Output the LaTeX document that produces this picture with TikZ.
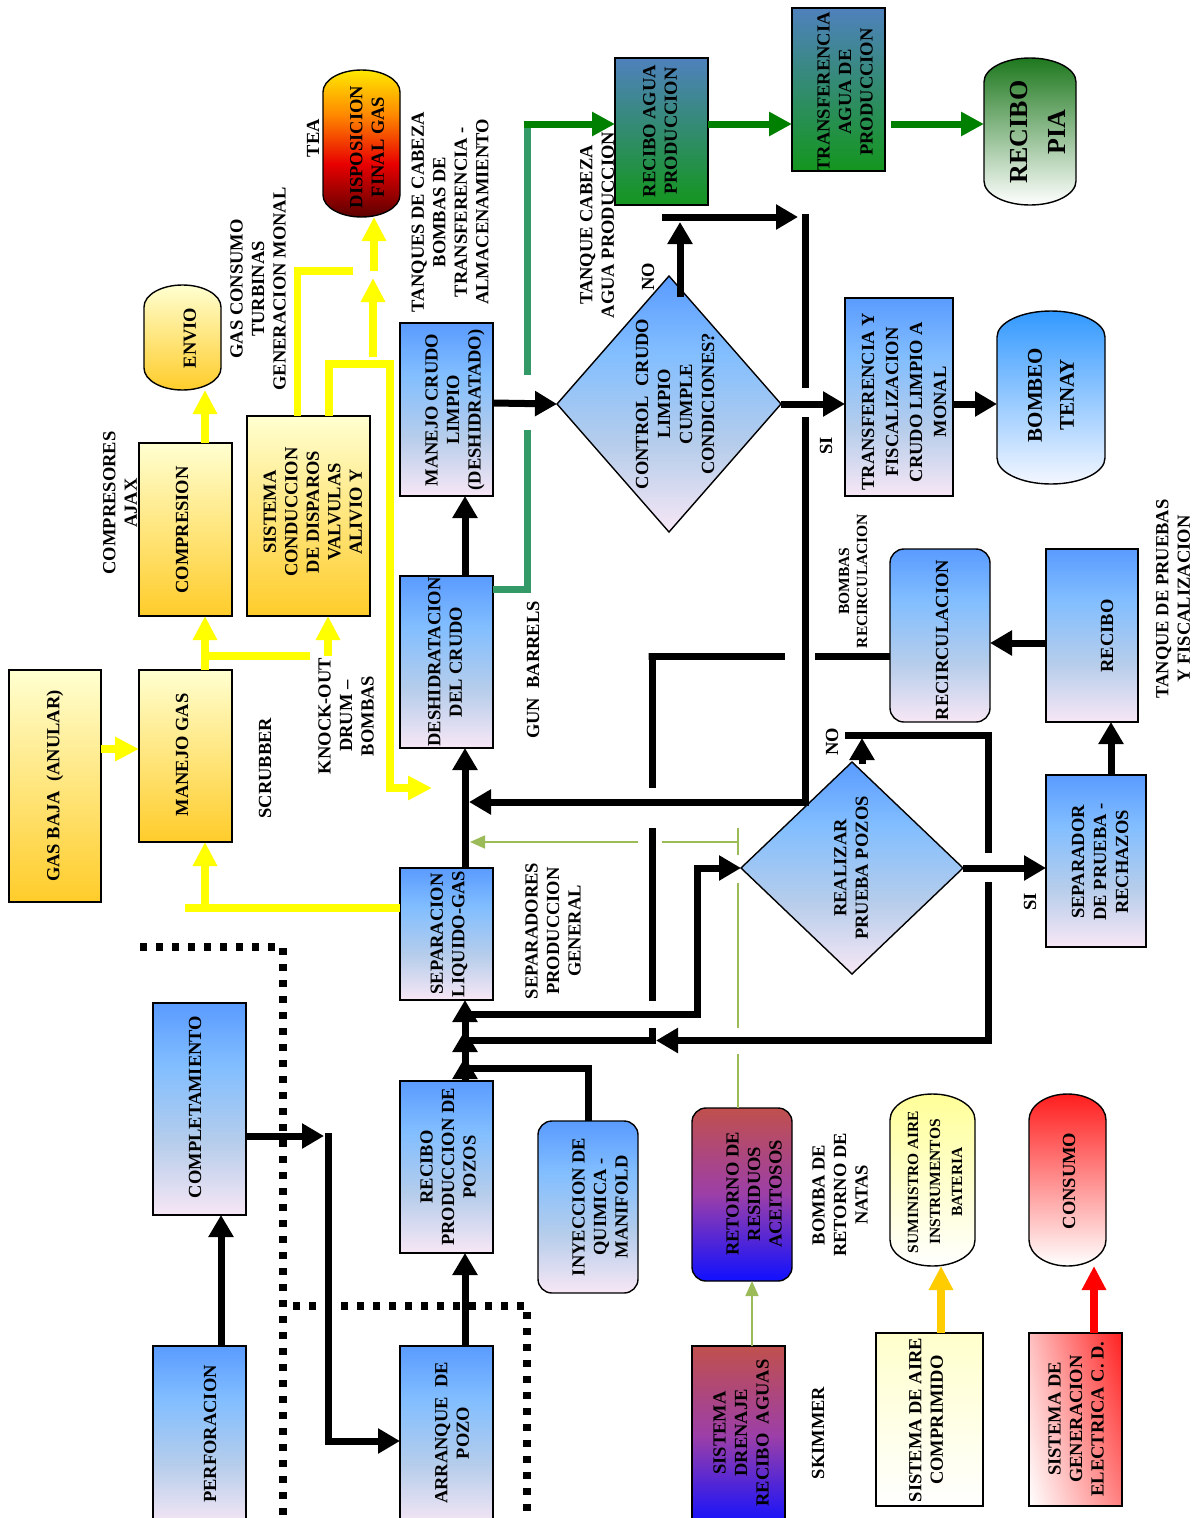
\documentclass[tikz,border=0pt]{standalone}
\usepackage{fontspec}
\setmainfont{Liberation Serif}
\usetikzlibrary{arrows.meta,shapes.geometric,shadings}

\definecolor{btop}{HTML}{5A9BFF}
\definecolor{blight}{HTML}{82BEFF}
\definecolor{bmid}{HTML}{B6CDEB}
\definecolor{bpink}{HTML}{F7E7F5}
\pgfdeclareverticalshading{bluefade}{100bp}{color(0bp)=(bpink); color(25bp)=(bpink); color(42bp)=(bmid); color(60bp)=(blight); color(75bp)=(btop); color(100bp)=(btop)}
\definecolor{fa}{HTML}{5C0000}
\definecolor{fb}{HTML}{E80000}
\definecolor{fc}{HTML}{FF8A00}
\definecolor{fd}{HTML}{FFE800}
\pgfdeclareverticalshading{flame}{100bp}{color(0bp)=(fa); color(25bp)=(fa); color(43bp)=(fb); color(60bp)=(fc); color(75bp)=(fd); color(100bp)=(fd)}
\definecolor{ytop}{HTML}{FFFFD0}
\definecolor{ybot}{HTML}{FFCC2A}
\definecolor{wtop}{HTML}{4F81BD}
\definecolor{wbot}{HTML}{14961E}
\definecolor{pia}{HTML}{1E781E}
\definecolor{tenay}{HTML}{3399FF}
\definecolor{tenayb}{HTML}{F4F7FF}
\definecolor{rtop}{HTML}{C0504D}
\definecolor{rmid}{HTML}{9C3FA8}
\definecolor{rbot}{HTML}{1010FF}
\definecolor{sumi}{HTML}{FFFF99}
\definecolor{airec}{HTML}{FFFFCC}
\definecolor{cons}{HTML}{FF1E1E}
\definecolor{genul}{HTML}{FFC0C0}
\definecolor{genur}{HTML}{FF2020}
\definecolor{genlr}{HTML}{FF8080}
\definecolor{gA}{HTML}{008000}
\definecolor{gS}{HTML}{339966}
\definecolor{gT}{HTML}{9BBB59}
\definecolor{goldc}{HTML}{FFCC00}
\definecolor{ylwc}{HTML}{FFFF00}

\tikzset{
 base/.style={draw=black, line width=1.4pt, inner sep=0pt, outer sep=0pt},
 bluebox/.style={base, rectangle, shade, shading=bluefade},
 yelbox/.style={base, rectangle, top color=ytop, bottom color=ybot},
 waterbox/.style={base, rectangle, top color=wtop, bottom color=wbot},
 oilbox/.style={base, rectangle, top color=rtop, bottom color=rbot, middle color=rmid},
 rbox/.style={rounded corners=14pt},
 capline/.style={draw=black, line width=1.4pt},
 plainbox/.style={rectangle, inner sep=0pt, outer sep=0pt},
 txt/.style={rotate=90, align=center, inner sep=0pt, font=\fontsize{18.5}{21.5}\selectfont\bfseries},
 blk/.style={draw=black, line width=7pt, -{Triangle[length=22pt,width=24pt]}},
 blkline/.style={draw=black, line width=7pt},
 ylwA/.style={draw=ylwc, line width=7.5pt, -{Triangle[length=24pt,width=23pt]}},
 ylwline/.style={draw=ylwc, line width=7.5pt},
 grnA/.style={draw=gA, line width=7pt, -{Triangle[length=23pt,width=23pt]}},
 sgline/.style={draw=gS, line width=7pt},
 tgline/.style={draw=gT, line width=1.6pt},
 tgA/.style={tgline, -{Triangle[length=15pt,width=13pt]}},
 goldA/.style={draw=goldc, line width=8pt, -{Triangle[length=24pt,width=23pt]}},
 redA/.style={draw=red, line width=8pt, -{Triangle[length=24pt,width=23pt]}},
 dotb/.style={draw=black, line width=8pt, dash pattern=on 7pt off 9pt},
}

% name, cx, cy, w, h, cap, fill options
\newcommand\capsule[7]{%
 \path[capline,#7] ({#2-#4/2},{#3-#5/2+#6}) .. controls ({#2-#4/2},{#3-#5/2+0.448*#6}) and ({#2-0.276*#4},{#3-#5/2}) .. ({#2},{#3-#5/2}) .. controls ({#2+0.276*#4},{#3-#5/2}) and ({#2+#4/2},{#3-#5/2+0.448*#6}) .. ({#2+#4/2},{#3-#5/2+#6}) -- ({#2+#4/2},{#3+#5/2-#6}) .. controls ({#2+#4/2},{#3+#5/2-0.448*#6}) and ({#2+0.276*#4},{#3+#5/2}) .. ({#2},{#3+#5/2}) .. controls ({#2-0.276*#4},{#3+#5/2}) and ({#2-#4/2},{#3+#5/2-0.448*#6}) .. ({#2-#4/2},{#3+#5/2-#6}) -- cycle;
 \node[plainbox, minimum width=#4pt, minimum height=#5pt] (#1) at (#2,#3) {};
}

\begin{document}
\begin{tikzpicture}[x=1pt,y=-1pt]
\useasboundingbox (0,0) rectangle (1204,1518);
\fill[white] (0,0) rectangle (1204,1518);

% dotted borders
\draw[dotb] (140,947) -- (283,947) -- (283,1525);
\draw[dotb] (293,1306) -- (527,1306) -- (527,1525);

% ---------- boxes ----------
\node[yelbox, minimum width=92pt, minimum height=232pt] (gasbaja) at (55,786) {};
\node[yelbox, minimum width=93pt, minimum height=172pt] (manejogas) at (185.5,756) {};
\node[yelbox, minimum width=93pt, minimum height=173pt] (compresion) at (185.5,529.5) {};
\node[yelbox, minimum width=123pt, minimum height=200pt] (sistema) at (308.5,516) {};
\capsule{envio}{182.5}{337.5}{77}{105}{22}{top color=ytop, bottom color=ybot}
\capsule{disposicion}{361.5}{143.5}{77}{147}{22}{shade, shading=flame}

\node[bluebox, minimum width=93pt, minimum height=173pt] (manejocrudo) at (446.5,409.5) {};
\node[bluebox, minimum width=93pt, minimum height=172pt] (deshidratacion) at (446.5,662) {};
\node[bluebox, minimum width=93pt, minimum height=132pt] (separacion) at (446.5,934) {};
\node[bluebox, minimum width=93pt, minimum height=172pt] (reciboprod) at (446.5,1167) {};
\node[bluebox, minimum width=93pt, minimum height=180pt] (arranque) at (446.5,1436) {};
\node[bluebox, minimum width=93pt, minimum height=180pt] (perforacion) at (199.5,1436) {};
\node[bluebox, minimum width=93pt, minimum height=212pt] (completamiento) at (199.5,1109) {};
\node[bluebox, rbox, minimum width=100pt, minimum height=172pt] (inyeccion) at (588,1207) {};
\node[oilbox, rbox, minimum width=100pt, minimum height=173pt] (retorno) at (742,1194.5) {};
\node[oilbox, minimum width=93pt, minimum height=180pt] (drenaje) at (738.5,1436) {};
\capsule{suministro}{932.5}{1180}{85}{172}{26}{top color=sumi, bottom color=white}
\capsule{consumo}{1067.5}{1180}{77}{172}{26}{top color=cons, bottom color=white}
\node[base, rectangle, top color=airec, bottom color=white, minimum width=107pt, minimum height=173pt] (aire) at (929.5,1419.5) {};
\node[base, rectangle, shade, shading=bilinear interpolation, lower left=white, upper left=genul, upper right=genur, lower right=genlr, minimum width=93pt, minimum height=173pt] (generacion) at (1075.5,1419.5) {};

\node[base, diamond, shade, shading=bluefade, minimum width=224pt, minimum height=256pt] (control) at (669,404) {};
\node[base, diamond, shade, shading=bluefade, minimum width=222pt, minimum height=212pt] (realizar) at (852,868) {};

\node[waterbox, minimum width=93pt, minimum height=147pt] (reciboagua) at (661.5,131.5) {};
\node[waterbox, minimum width=93pt, minimum height=163pt] (transfagua) at (838.5,89.5) {};
\capsule{recibopia}{1030}{131.5}{92}{147}{24}{top color=pia, bottom color=white}
\node[bluebox, minimum width=108pt, minimum height=198pt] (transfcrudo) at (899,397) {};
\capsule{bombeo}{1051}{397.5}{108}{173}{26}{top color=tenay, bottom color=tenayb}
\node[bluebox, minimum width=100pt, minimum height=172pt] (separador) at (1096,861) {};
\node[bluebox, minimum width=92pt, minimum height=173pt] (recibo) at (1092,635.5) {};
\node[bluebox, rbox, minimum width=100pt, minimum height=173pt] (recirc) at (940,635.5) {};

% ---------- black connectors ----------
\coordinate (jA) at (324,1136);
\draw[blk] ([xshift=21.5pt]perforacion.north) -- ([xshift=21.5pt]completamiento.south);
\draw[blk] ([yshift=-27pt]completamiento.east) -- (jA);
\draw[blk] (328,1133) |- ([yshift=-5pt]arranque.west);
\draw[blk] ([xshift=18.5pt]arranque.north) -- ([xshift=18.5pt]reciboprod.south);
\draw[blk] ([xshift=18.5pt]reciboprod.north) -- ([xshift=18.5pt]separacion.south);
\draw[blk] ([xshift=18.5pt]separacion.north) -- ([xshift=18.5pt]deshidratacion.south);
\draw[blk] ([xshift=18.5pt]deshidratacion.north) -- ([xshift=18.5pt]manejocrudo.south);
\draw[blk] (inyeccion.north) |- (465,1068) -- (465,1057);
\draw[blk] (988,882) -- (988,1040.5) -- (656,1040.5);
\draw[blk] (652,1028) -- (652,1040.5) -- (465,1040.5) -- (465,1030);
\draw[blkline] ([yshift=-20.5pt]recirc.west) -- (815,656);
\draw[blkline] (785,656) -- (648.5,656) -- (652,656) -- (652,788);
\draw[blkline] (652,828) -- (652,1001);
\draw[blk] (465,1014) -| (697,868) -- (realizar.west);
\draw[blk] ([xshift=10pt,yshift=-2pt]realizar.north) -- (862,738);
\draw[blkline] (845,735) -- (988,735) -- (988,853);
\draw[blk] (realizar.east) -- (realizar.east -| separador.west);
\draw[blk] ([xshift=15pt]separador.north) -- ([xshift=19pt]recibo.south);
\draw[blk] ([yshift=-7.5pt]recibo.west) -- ([yshift=-7.5pt]recirc.east);
\draw[blk] ([yshift=6.5pt]manejocrudo.east) -- (control.west);
\draw[blk] (control.east) -- (control.east -| transfcrudo.west);
\draw[blk] ([yshift=-7pt]transfcrudo.east) -- ([yshift=-6.5pt]bombeo.west);
\draw[blk] ([xshift=11pt,yshift=-21pt]control.north) -- (680,222);
\draw[blk] (662,217) -- (798,217);
\draw[blkline] (805,213.5) -- (805,388);
\draw[blk] (805,417) -- (805,802) -- (469,802);

% ---------- green connectors ----------
\draw[sgline] ([yshift=73pt]deshidratacion.east) -- (527,589) -- (527,430);
\draw[sgline] (527,375) -- (527,120.5);
\draw[grnA] (523.5,124) -- ([yshift=7.5pt]reciboagua.west);
\draw[grnA] ([yshift=7.5pt]reciboagua.east) -- ([yshift=-34.5pt]transfagua.west);
\draw[grnA] ([xshift=6pt,yshift=-34.5pt]transfagua.east) -- ([yshift=7.5pt]recibopia.west);

% ---------- yellow connectors ----------
\draw[ylwA] ([yshift=37pt]gasbaja.east) -- ([yshift=7pt]manejogas.west);
\draw[ylwA] ([xshift=19.5pt]manejogas.north) -- ([xshift=19.5pt]compresion.south);
\draw[ylwline] (205,656) -- (310,656);
\draw[ylwA] (328,656) -- ([xshift=19.5pt]sistema.south);
\draw[ylwA] ([xshift=19.5pt]compresion.north) -- ([xshift=22.5pt]envio.south);
\draw[ylwline] ([yshift=26pt]separacion.west) -- (185,908);
\draw[ylwA] (205,908) -- ([xshift=19.5pt]manejogas.south);
\draw[ylwline] ([xshift=-11pt]sistema.north) |- (353,271);
\draw[ylwA] ([xshift=20.5pt]sistema.north) |- (390,364) |- (432,788);
\draw[ylwA] (373,357) -- (373,278);
\draw[ylwA] (374,271) -- ([xshift=12.5pt]disposicion.south);

% ---------- utilities ----------
\draw[goldA] ([xshift=11.5pt]aire.north) -- ([xshift=8.5pt]suministro.south);
\draw[redA] ([xshift=18.5pt]generacion.north) -- ([xshift=26.5pt]consumo.south);

% ---------- thin green ----------
\draw[tgA] ([xshift=13.5pt]drenaje.north) -- ([xshift=10pt]retorno.south);
\draw[tgline] ([xshift=-4pt]retorno.north) -- (738,1054);
\draw[tgline] (738,1028) -- (738,883);
\draw[tgline] (738,855) -- (738,828);
\draw[tgline] (738,842) -- (662,842);
\draw[tgA] (638,842) -- (470,842);

% ---------- box texts ----------
\node[txt] (t1) at (55,786) {GAS BAJA\hspace{0.5em}(ANULAR)};
\node[txt] (t2) at (182,755) {MANEJO GAS};
\node[txt] (t3) at (182,530) {COMPRESION};
\node[txt] (t4) at (313,512) {SISTEMA\\CONDUCCION\\DE DISPAROS\\VALVULAS\\ALIVIO Y};
\node[txt] (t5) at (190,338) {ENVIO};
\node[txt] (t6) at (367,147) {DISPOSICION\\FINAL GAS};
\node[txt] (t7) at (455,410) {MANEJO CRUDO\\LIMPIO\\(DESHIDRATADO)};
\node[txt] (t8) at (445,662) {DESHIDRATACION\\DEL CRUDO};
\node[txt] (t9) at (449,934) {SEPARACION\\LIQUIDO-GAS};
\node[txt] (t10) at (448,1167) {RECIBO\\PRODUCCION DE\\POZOS};
\node[txt] (t11) at (452,1433) {ARRANQUE\ \ DE\\POZO};
\node[txt] (t12) at (210,1434) {PERFORACION};
\node[txt] (t13) at (195,1107) {COMPLETAMIENTO};
\node[txt] (t14) at (600,1207) {INYECCION DE\\QUIMICA -\\MANIFOLD};
\node[txt] (t15) at (754,1194) {RETORNO DE\\RESIDUOS\\ACEITOSOS};
\node[txt] (t16) at (741,1433) {SISTEMA\\DRENAJE\\RECIBO\ \ AGUAS};
\node[txt, font=\fontsize{15.5}{22}\selectfont\bfseries] (t17) at (935,1182) {SUMINISTRO AIRE\\INSTRUMENTOS\\BATERIA};
\node[txt] (t18) at (1069,1181) {CONSUMO};
\node[txt] (t19) at (926,1420) {SISTEMA DE AIRE\\COMPRIMIDO};
\node[txt] (t20) at (1076,1419) {SISTEMA DE\\GENERACION\\ELECTRICA C. D.};
\node[txt, font=\fontsize{18.5}{22}\selectfont\bfseries] (t21) at (675,404) {CONTROL\ \ CRUDO\\LIMPIO\\CUMPLE\\CONDICIONES?};
\node[txt] (t22) at (851,868) {REALIZAR\\PRUEBA POZOS};
\node[txt] (t23) at (660,131) {RECIBO AGUA\\PRODUCCION};
\node[txt] (t24) at (845,92) {TRANSFERENCIA\\AGUA DE\\PRODUCCION};
\node[txt, font=\fontsize{26}{38}\selectfont\bfseries] (t25) at (1038,132) {RECIBO\\PIA};
\node[txt, font=\fontsize{18.5}{24}\selectfont\bfseries] (t26) at (904,402) {TRANSFERENCIA Y\\FISCALIZACION\\CRUDO LIMPIO A\\MONAL};
\node[txt, font=\fontsize{21}{32}\selectfont\bfseries] (t27) at (1051,395) {BOMBEO\\TENAY};
\node[txt, font=\fontsize{18.5}{22}\selectfont\bfseries] (t28) at (1100,862) {SEPARADOR\\DE PRUEBA -\\RECHAZOS};
\node[txt] (t29) at (1107,636) {RECIBO};
\node[txt] (t30) at (942,640) {RECIRCULACION};

% ---------- free labels ----------
\node[txt] (l1) at (120,503) {COMPRESORES\\AJAX};
\node[txt] (l2) at (265,768) {SCRUBBER};
\node[txt] (l3) at (346,716) {KNOCK-OUT\\DRUM --\\BOMBAS};
\node[txt] (l4) at (258,289) {GAS CONSUMO\\TURBINAS\\GENERACION MONAL};
\node[txt] (l5) at (313,138) {TEA};
\node[txt] (l6) at (450,212) {TANQUES DE CABEZA\\BOMBAS DE\\TRANSFERENCIA -\\ALMACENAMIENTO};
\node[txt] (l7) at (597,225) {TANQUE CABEZA\\AGUA PRODUCCION};
\node[txt] (l8) at (648,277) {NO};
\node[txt] (l9) at (826,446) {SI};
\node[txt] (l10) at (533,670) {GUN\ \ BARRELS};
\node[txt] (l11) at (553,931) {SEPARADORES\\PRODUCCION\\GENERAL};
\node[txt, font=\fontsize{15.5}{18}\selectfont\bfseries] (l12) at (853,581) {BOMBAS\\RECIRCULACION};
\node[txt] (l13) at (832,742) {NO};
\node[txt] (l14) at (1030,902) {SI};
\node[txt] (l15) at (1173,599) {TANQUE DE PRUEBAS\\Y FISCALIZACION};
\node[txt] (l16) at (840,1195) {BOMBA DE\\RETORNO DE\\NATAS};
\node[txt] (l17) at (818,1433) {SKIMMER};
\end{tikzpicture}
\end{document}
